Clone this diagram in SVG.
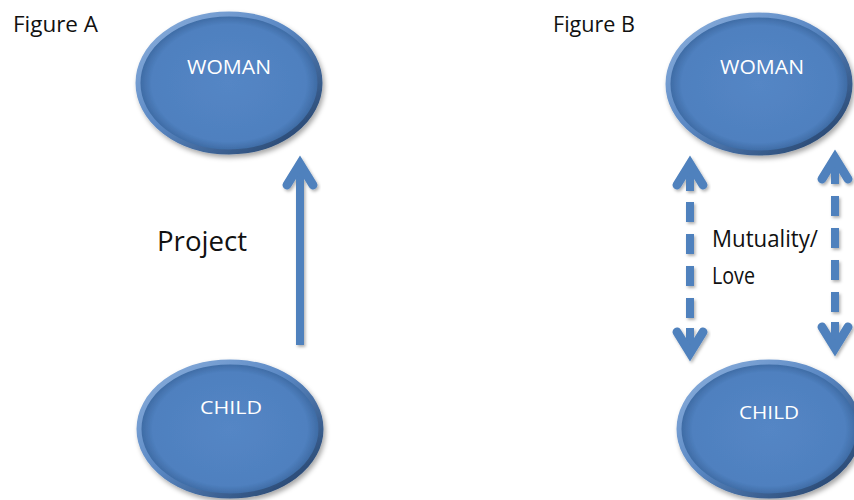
<svg xmlns="http://www.w3.org/2000/svg" width="854" height="500" viewBox="0 0 854 500">
  <defs>
    <linearGradient id="rim" x1="0" y1="0" x2="1" y2="1">
      <stop offset="0" stop-color="#8fb2de"/>
      <stop offset="0.45" stop-color="#5a88c4"/>
      <stop offset="1" stop-color="#1e3a60"/>
    </linearGradient>
    <radialGradient id="body" cx="0.5" cy="0.5" r="0.5">
      <stop offset="0" stop-color="#5486c5"/>
      <stop offset="0.85" stop-color="#4f80bf"/>
      <stop offset="1" stop-color="#3b679f"/>
    </radialGradient>
    <filter id="eshadow" x="-10%" y="-10%" width="125%" height="130%">
      <feDropShadow dx="2" dy="3" stdDeviation="2.5" flood-color="#000" flood-opacity="0.35"/>
    </filter>
    <filter id="ashadow" x="-30%" y="-10%" width="160%" height="130%">
      <feDropShadow dx="1.5" dy="2" stdDeviation="1.5" flood-color="#000" flood-opacity="0.3"/>
    </filter>
  </defs>
  <style>
    .node ellipse { fill: url(#body); stroke: url(#rim); stroke-width: 5; filter: url(#eshadow); }
    .lbl { font-family: "Open Sans", "Liberation Sans", sans-serif; fill: #ffffff; text-anchor: middle; }
    .txt { font-family: "Open Sans", "Liberation Sans", sans-serif; fill: #111111; }
    .shaft { stroke: #4f81bd; stroke-width: 8; fill: none; }
    .head { stroke: #4f81bd; stroke-width: 9; fill: none; stroke-linejoin: miter; stroke-miterlimit: 10; stroke-linecap: round; }
    .dash { stroke-dasharray: 20 12; }
    .arrow { filter: url(#ashadow); }
  </style>

  <rect width="854" height="500" fill="#ffffff"/>

  <text class="txt" x="13" y="32" font-size="22" textLength="85" lengthAdjust="spacingAndGlyphs">Figure A</text>
  <text class="txt" x="553" y="32" font-size="22" textLength="82" lengthAdjust="spacingAndGlyphs">Figure B</text>
  <text class="txt" x="157" y="251" font-size="27" textLength="90" lengthAdjust="spacingAndGlyphs">Project</text>
  <text class="txt" x="712" y="247" font-size="24" textLength="106" lengthAdjust="spacingAndGlyphs">Mutuality/</text>
  <text class="txt" x="712" y="284" font-size="24" textLength="43" lengthAdjust="spacingAndGlyphs">Love</text>

  <g id="woman-a" class="node">
    <ellipse cx="229" cy="83" rx="91" ry="69"/>
    <text class="lbl" x="229" y="74" font-size="20" textLength="84" lengthAdjust="spacingAndGlyphs">WOMAN</text>
  </g>
  <g id="child-a" class="node">
    <ellipse cx="230" cy="429" rx="91" ry="67"/>
    <text class="lbl" x="231" y="414" font-size="19" textLength="62" lengthAdjust="spacingAndGlyphs">CHILD</text>
  </g>
  <g id="woman-b" class="node">
    <ellipse cx="759" cy="84" rx="91" ry="69"/>
    <text class="lbl" x="762" y="74" font-size="20" textLength="84" lengthAdjust="spacingAndGlyphs">WOMAN</text>
  </g>
  <g id="child-b" class="node">
    <ellipse cx="769" cy="429" rx="90" ry="67"/>
    <text class="lbl" x="769" y="419" font-size="19" textLength="60" lengthAdjust="spacingAndGlyphs">CHILD</text>
  </g>

  <g id="connectors">
    <g class="arrow">
      <line class="shaft" x1="300" y1="164" x2="300" y2="345"/>
      <polyline class="head" points="287,185 300,164 313,185"/>
    </g>
    <g class="arrow">
      <line class="shaft" x1="690" y1="163" x2="690" y2="191"/>
      <line class="shaft dash" x1="690" y1="202" x2="690" y2="330"/>
      <line class="shaft" x1="690" y1="328" x2="690" y2="354"/>
      <polyline class="head" points="677,185 690,164 703,185"/>
      <polyline class="head" points="677,332 690,353 703,332"/>
    </g>
    <g class="arrow">
      <line class="shaft" x1="835" y1="157" x2="835" y2="184"/>
      <line class="shaft dash" x1="835" y1="196" x2="835" y2="324"/>
      <line class="shaft" x1="835" y1="322" x2="835" y2="349"/>
      <polyline class="head" points="822,179 835,158 848,179"/>
      <polyline class="head" points="822,327 835,348 848,327"/>
    </g>
  </g>
</svg>
